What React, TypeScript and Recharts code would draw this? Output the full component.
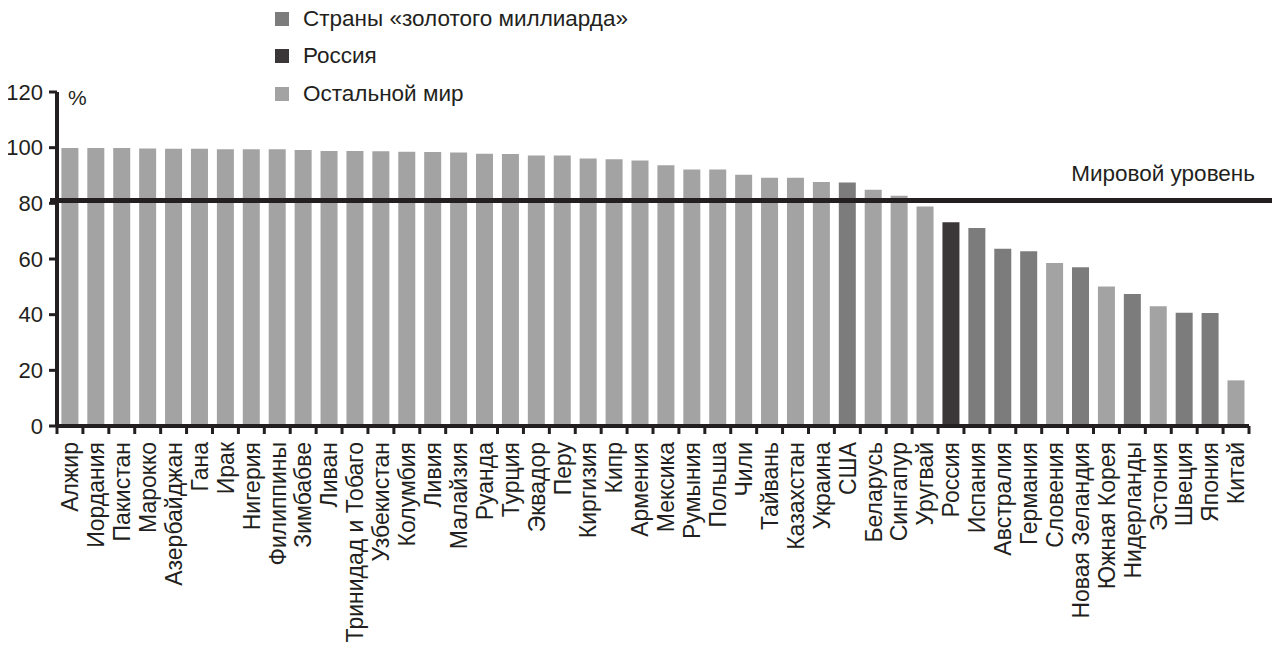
import { BarChart, Bar, Cell, XAxis, YAxis, ReferenceLine, Legend } from 'recharts'

const countries = [
  'Алжир', 'Иордания', 'Пакистан', 'Марокко', 'Азербайджан', 'Гана', 'Ирак', 'Нигерия',
  'Филиппины', 'Зимбабве', 'Ливан', 'Тринидад и Тобаго', 'Узбекистан', 'Колумбия', 'Ливия',
  'Малайзия', 'Руанда', 'Турция', 'Эквадор', 'Перу', 'Киргизия', 'Кипр', 'Армения', 'Мексика',
  'Румыния', 'Польша', 'Чили', 'Тайвань', 'Казахстан', 'Украина', 'США', 'Беларусь', 'Сингапур',
  'Уругвай', 'Россия', 'Испания', 'Австралия', 'Германия', 'Словения', 'Новая Зеландия',
  'Южная Корея', 'Нидерланды', 'Эстония', 'Швеция', 'Япония', 'Китай',
]

const values = [
  99.9, 99.9, 99.9, 99.7, 99.6, 99.6, 99.4, 99.4, 99.4, 99.2, 98.8, 98.8, 98.7, 98.5, 98.4,
  98.3, 97.8, 97.7, 97.2, 97.2, 96.1, 95.8, 95.4, 93.7, 92.2, 92.2, 90.3, 89.2, 89.2, 87.7,
  87.5, 84.9, 82.7, 78.9, 73.2, 71.1, 63.7, 62.8, 58.6, 57.0, 50.1, 47.4, 43.0, 40.7, 40.6, 16.4,
]

// g = страны «золотого миллиарда», r = Россия, o = остальной мир
const groups = [
  'o', 'o', 'o', 'o', 'o', 'o', 'o', 'o', 'o', 'o', 'o', 'o', 'o', 'o', 'o',
  'o', 'o', 'o', 'o', 'o', 'o', 'o', 'o', 'o', 'o', 'o', 'o', 'o', 'o', 'o',
  'g', 'o', 'o', 'o', 'r', 'g', 'g', 'g', 'o', 'g', 'o', 'g', 'o', 'g', 'g', 'o',
]

const yTicks = [0, 20, 40, 60, 80, 100, 120]
const worldLevel = 81

const legendItems = [
  { key: 'g', label: 'Страны «золотого миллиарда»' },
  { key: 'r', label: 'Россия' },
  { key: 'o', label: 'Остальной мир' },
]

const colors: Record<string, string> = {
  g: '#7c7c7c',
  r: '#3b3637',
  o: '#a3a3a3',
}

const ink = '#231f20'
const font = '"Liberation Sans", Arial, sans-serif'

const data = countries.map((name, i) => ({ name, value: values[i], group: groups[i] }))

function CountryTick(props: any) {
  const { x, y, payload } = props
  return (
    <text
      x={x}
      y={y}
      transform={`rotate(-90, ${x}, ${y})`}
      textAnchor="end"
      dx={-16}
      dy="0.36em"
      fontSize={23}
      fill={ink}
      fontFamily={font}
    >
      {payload.value}
    </text>
  )
}

function LegendBox() {
  return (
    <div style={{ fontFamily: font, fontSize: 22.5, color: ink }}>
      {legendItems.map((item) => (
        <div key={item.key} style={{ display: 'flex', alignItems: 'center', height: 37.5 }}>
          <span
            style={{
              width: 14,
              height: 14,
              background: colors[item.key],
              display: 'inline-block',
              marginRight: 14,
            }}
          />
          <span>{item.label}</span>
        </div>
      ))}
    </div>
  )
}

// axis pieces drawn with reference lines
function AxisLine(props: any) {
  const { x1, y1, x2, y2 } = props
  return <line x1={x1} y1={y1} x2={x2} y2={y2} stroke={ink} strokeWidth={4} />
}

function YTickMark(props: any) {
  const { x1, y1 } = props
  return <line x1={x1 - 8} y1={y1} x2={x1} y2={y1} stroke={ink} strokeWidth={3} />
}

function XTickMark(props: any) {
  const { x1, y1, y2 } = props
  const bottom = Math.max(y1, y2)
  return <line x1={x1} y1={bottom} x2={x1} y2={bottom + 8} stroke={ink} strokeWidth={3} />
}

function WorldLine(props: any) {
  const { x1, y1, x2, y2 } = props
  return <line x1={x1 - 7} y1={y1} x2={x2 + 24} y2={y2} stroke={ink} strokeWidth={5} />
}

function WorldLabel(props: any) {
  const { viewBox } = props
  return (
    <text
      x={viewBox.x + viewBox.width + 6}
      y={viewBox.y - 20}
      textAnchor="end"
      fontSize={22.5}
      fill={ink}
      fontFamily={font}
    >
      Мировой уровень
    </text>
  )
}

function PercentLabel(props: any) {
  const { viewBox } = props
  return (
    <text
      x={viewBox.x + viewBox.width + 11}
      y={viewBox.y + 13}
      fontSize={21}
      fill={ink}
      fontFamily={font}
    >
      %
    </text>
  )
}

export default function App() {
  return (
    <div style={{ margin: '-8px 0 0 -8px', width: 1280 }}>
      <BarChart
        width={1280}
        height={650}
        data={data}
        margin={{ top: 92, right: 31, left: 0, bottom: 4 }}
        barCategoryGap="17%"
      >
        <XAxis
          dataKey="name"
          interval={0}
          height={220}
          axisLine={false}
          tickLine={false}
          tickSize={0}
          tickMargin={0}
          tick={<CountryTick />}
        />
        <YAxis
          domain={[0, 120]}
          ticks={yTicks}
          width={57}
          tickSize={0}
          tickMargin={14}
          axisLine={false}
          tickLine={false}
          tick={{ fontSize: 22, fill: ink, fontFamily: font }}
          label={<PercentLabel />}
        />
        <Legend
          layout="horizontal"
          verticalAlign="middle"
          align="center"
          content={<LegendBox />}
          wrapperStyle={{ top: 0, left: 275, width: 'auto', height: 'auto' }}
        />
        <Bar dataKey="value" isAnimationActive={false} legendType="none">
          {data.map((d) => (
            <Cell key={d.name} fill={colors[d.group]} />
          ))}
        </Bar>
        <ReferenceLine x={countries[0]} position="start" shape={<AxisLine />} />
        <ReferenceLine y={0} shape={<AxisLine />} />
        {yTicks.map((t) => (
          <ReferenceLine key={`y${t}`} y={t} shape={<YTickMark />} />
        ))}
        {countries.map((c) => (
          <ReferenceLine key={`x${c}`} x={c} position="start" shape={<XTickMark />} />
        ))}
        <ReferenceLine x={countries[countries.length - 1]} position="end" shape={<XTickMark />} />
        <ReferenceLine y={worldLevel} shape={<WorldLine />} label={<WorldLabel />} />
      </BarChart>
    </div>
  )
}
